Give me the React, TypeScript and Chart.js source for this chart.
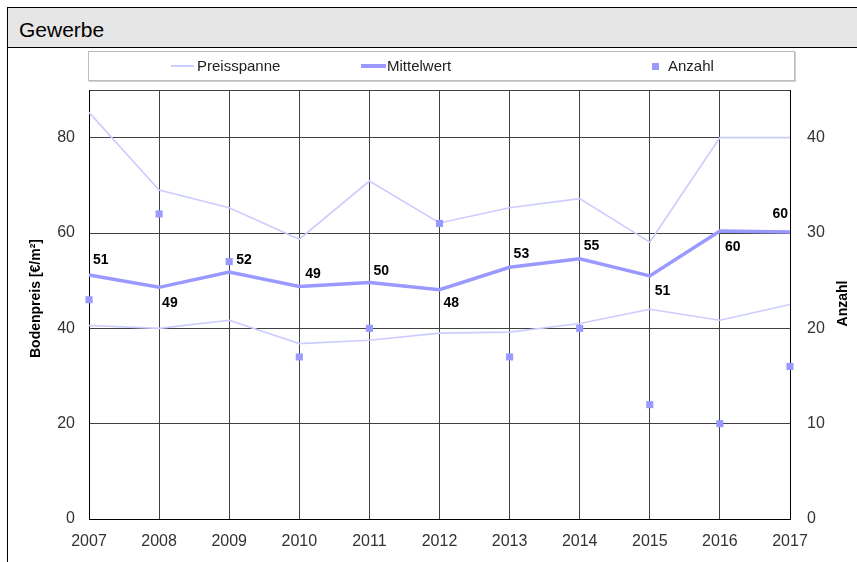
import React, { useEffect, useRef } from 'react';
import { Chart, registerables } from 'chart.js';

Chart.register(...registerables);

// ---- data ----
const years = ['2007', '2008', '2009', '2010', '2011', '2012', '2013', '2014', '2015', '2016', '2017'];
const mittelwert = [51.2, 48.6, 51.8, 48.8, 49.6, 48.1, 52.8, 54.6, 51.0, 60.4, 60.2];
const preisMax = [85.3, 69.0, 65.3, 58.7, 70.9, 62.1, 65.3, 67.2, 58.1, 80.0, 80.0];
const preisMin = [40.6, 40.0, 41.7, 36.8, 37.5, 39.0, 39.2, 41.0, 44.0, 41.7, 45.0];
const anzahl = [23, 32, 27, 17, 20, 31, 17, 20, 12, 10, 16];
const leftTicks = [0, 20, 40, 60, 80];
const rightTicks = [0, 10, 20, 30, 40];
const leftMax = 90;
const rightMax = 45;

const FONT = '"Liberation Sans", Arial, sans-serif';
const C_MEAN = '#9999ff';
const C_RANGE = '#ccccff';
const C_GRID = '#404040';

// label placement for Mittelwert values: [dx, dy, align]
const labelPlacement: [number, number, CanvasTextAlign][] = [
  [4, -15, 'left'], [3, 16, 'left'], [7, -12, 'left'], [6, -12, 'left'], [4, -11, 'left'],
  [4, 13, 'left'], [4, -13, 'left'], [4, -13, 'left'], [5, 15, 'left'], [5, 16, 'left'], [-2, -18, 'right'],
];

const overlayPlugin = {
  id: 'overlay',
  afterDatasetsDraw(chart: any) {
    const ctx = chart.ctx as CanvasRenderingContext2D;
    const meta = chart.getDatasetMeta(1);
    ctx.save();
    ctx.font = `bold 14px ${FONT}`;
    ctx.fillStyle = '#000';
    ctx.textBaseline = 'middle';
    meta.data.forEach((pt: any, i: number) => {
      const [dx, dy, align] = labelPlacement[i];
      ctx.textAlign = align;
      ctx.fillText(String(Math.round(mittelwert[i])), pt.x + dx, pt.y + dy);
    });
    const ca = chart.chartArea;
    const cy = (ca.top + ca.bottom) / 2;
    ctx.textAlign = 'center';
    ctx.save();
    ctx.translate(28, cy - 6);
    ctx.rotate(-Math.PI / 2);
    ctx.fillText('Bodenpreis [€/m²]', 0, 0);
    ctx.restore();
    ctx.save();
    ctx.translate(835, cy - 1);
    ctx.rotate(-Math.PI / 2);
    ctx.fillText('Anzahl', 0, 0);
    ctx.restore();
    ctx.restore();
  },
};

function ChartCanvas() {
  const ref = useRef<HTMLCanvasElement>(null);
  useEffect(() => {
    if (!ref.current) return;
    const tickFont = { family: FONT, size: 16 };
    const chart = new Chart(ref.current, {
      type: 'line',
      data: {
        labels: years,
        datasets: [
          {
            label: 'Anzahl',
            data: anzahl,
            yAxisID: 'y2',
            showLine: false,
            pointStyle: 'rect',
            pointRadius: 5,
            pointBorderWidth: 0,
            pointBackgroundColor: C_MEAN,
            pointBorderColor: C_MEAN,
            backgroundColor: C_MEAN,
            borderColor: C_MEAN,
          },
          {
            label: 'Mittelwert',
            data: mittelwert,
            yAxisID: 'y',
            borderColor: C_MEAN,
            borderWidth: 3.5,
            pointRadius: 0,
            tension: 0,
          },
          {
            label: 'Preisspanne',
            data: preisMax,
            yAxisID: 'y',
            borderColor: C_RANGE,
            borderWidth: 1.6,
            pointRadius: 0,
            tension: 0,
          },
          {
            label: 'Preisspanne min',
            data: preisMin,
            yAxisID: 'y',
            borderColor: C_RANGE,
            borderWidth: 1.6,
            pointRadius: 0,
            tension: 0,
          },
        ],
      },
      options: {
        responsive: false,
        animation: false,
        layout: { padding: { top: 42, left: 0, right: 0, bottom: 0 } },
        plugins: { legend: { display: false }, tooltip: { enabled: false }, title: { display: false } },
        scales: {
          x: {
            type: 'category',
            offset: false,
            grid: { color: C_GRID, lineWidth: 1, drawTicks: false },
            border: { color: '#000', width: 1 },
            ticks: { color: '#333', font: tickFont, padding: 13, maxRotation: 0, autoSkip: false },
            afterFit: (s: any) => { s.height = 43; },
          },
          y: {
            position: 'left',
            min: 0,
            max: leftMax,
            afterBuildTicks: (s: any) => { s.ticks = [...leftTicks, leftMax].map((v) => ({ value: v })); },
            ticks: {
              color: '#333',
              font: tickFont,
              padding: 14,
              callback: (v: any) => (leftTicks.includes(Number(v)) ? String(v) : ''),
            },
            grid: { color: C_GRID, lineWidth: 1, drawTicks: false },
            border: { color: '#000', width: 1 },
            afterFit: (s: any) => { s.width = 81; },
          },
          y2: {
            position: 'right',
            min: 0,
            max: rightMax,
            afterBuildTicks: (s: any) => { s.ticks = [...rightTicks, rightMax].map((v) => ({ value: v })); },
            ticks: {
              color: '#333',
              font: tickFont,
              padding: 17,
              callback: (v: any) => (rightTicks.includes(Number(v)) ? String(v) : ''),
            },
            grid: { display: false, drawTicks: false },
            border: { display: true, color: '#000', width: 1 },
            afterFit: (s: any) => { s.width = 67; },
          },
        },
      } as any,
      plugins: [overlayPlugin],
    });
    return () => chart.destroy();
  }, []);
  return <canvas ref={ref} width={849} height={514} style={{ position: 'absolute', left: 0, top: 40, width: 849, height: 514 }} />;
}

export default function App() {
  const legendText: React.CSSProperties = {
    position: 'absolute', top: 0, height: 28, lineHeight: '28px', fontFamily: FONT, fontSize: 15, color: '#222', whiteSpace: 'nowrap',
  };
  return (
    <div
      style={{
        position: 'fixed', left: 7, top: 7, width: 850, height: 555, boxSizing: 'border-box',
        borderTop: '1px solid #000', borderLeft: '1px solid #000', background: '#fff', overflow: 'hidden',
      }}
    >
      <div
        style={{
          position: 'absolute', left: 0, top: 0, width: 849, height: 40, boxSizing: 'border-box',
          background: '#e6e6e6', borderBottom: '1px solid #000',
        }}
      >
        <div style={{ position: 'absolute', left: 11, top: 10, fontFamily: FONT, fontSize: 21, lineHeight: '24px', color: '#000' }}>
          Gewerbe
        </div>
      </div>
      <ChartCanvas />
      <div
        style={{
          position: 'absolute', left: 80, top: 43, width: 707, height: 30, boxSizing: 'border-box',
          border: '1px solid #bdbdbd', boxShadow: '1px 1px 0 #d0d0d0', background: '#fff',
        }}
      >
        <div style={{ position: 'absolute', left: 82, top: 13, width: 23, height: 2, background: C_RANGE }} />
        <div style={{ ...legendText, left: 108 }}>Preisspanne</div>
        <div style={{ position: 'absolute', left: 272, top: 12, width: 25, height: 4, background: C_MEAN }} />
        <div style={{ ...legendText, left: 298 }}>Mittelwert</div>
        <div style={{ position: 'absolute', left: 563, top: 11, width: 7, height: 7, background: C_MEAN }} />
        <div style={{ ...legendText, left: 579 }}>Anzahl</div>
      </div>
    </div>
  );
}
